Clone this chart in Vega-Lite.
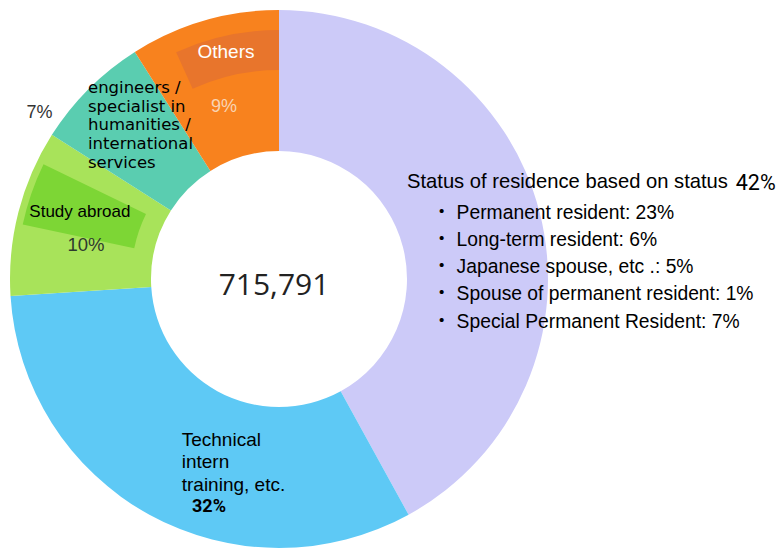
{
  "$schema": "https://vega.github.io/schema/vega-lite/v6.json",
  "width": 558,
  "height": 540,
  "autosize": {"type": "none"},
  "padding": {"left": 0, "top": 9, "right": 218, "bottom": 0},
  "background": "white",
  "config": {"view": {"stroke": null}, "text": {"font": "Liberation Sans"}},
  "datasets": {
    "slices": [
      {"order": 1, "category": "Status of residence based on status", "share": 0.42, "label": "Status of residence based on status", "detail": "・ Permanent resident: 23%\n・ Long-term resident: 6%\n・ Japanese spouse, etc .: 5%\n・ Spouse of permanent resident: 1%\n・ Special Permanent Resident: 7%"},
      {"order": 2, "category": "Technical intern training, etc.", "share": 0.32, "label": "Technical\nintern\ntraining, etc.", "detail": ""},
      {"order": 3, "category": "Study abroad", "share": 0.10, "label": "Study abroad", "detail": ""},
      {"order": 4, "category": "engineers / specialist in humanities / international services", "share": 0.07, "label": "engineers /\nspecialist in\nhumanities /\ninternational\nservices", "detail": ""},
      {"order": 5, "category": "Others", "share": 0.09, "label": "Others", "detail": ""}
    ],
    "summary": [{"total": 715791}]
  },
  "layer": [
    {
      "data": {"name": "slices"},
      "mark": {"type": "arc", "outerRadius": 269, "innerRadius": 128},
      "encoding": {
        "theta": {"field": "share", "type": "quantitative", "stack": true, "scale": {"domain": [0, 1]}},
        "order": {"field": "order", "type": "quantitative"},
        "color": {
          "field": "category", "type": "nominal", "legend": null,
          "scale": {
            "domain": ["Status of residence based on status", "Technical intern training, etc.", "Study abroad", "engineers / specialist in humanities / international services", "Others"],
            "range": ["#CCCAF8", "#5EC9F5", "#A8E35A", "#5ACDB0", "#F8821E"]
          }
        }
      }
    },
    {
      "data": {"name": "slices"},
      "transform": [
        {"stack": "share", "groupby": [], "sort": [{"field": "order", "order": "ascending"}], "as": ["s0", "s1"]},
        {"filter": "datum.order === 5"}
      ],
      "mark": {"type": "arc", "outerRadius": 249, "innerRadius": 209, "thetaOffset": 0.1396, "color": "#E8752C"},
      "encoding": {
        "theta": {"field": "s0", "type": "quantitative", "scale": {"domain": [0, 1]}},
        "theta2": {"field": "s1"}
      }
    },
    {
      "data": {"name": "slices"},
      "transform": [
        {"stack": "share", "groupby": [], "sort": [{"field": "order", "order": "ascending"}], "as": ["s0", "s1"]},
        {"filter": "datum.order === 3"}
      ],
      "mark": {"type": "arc", "outerRadius": 262, "innerRadius": 148, "thetaOffset": 0.2723, "theta2Offset": -0.1117, "color": "#7DD635"},
      "encoding": {
        "theta": {"field": "s0", "type": "quantitative", "scale": {"domain": [0, 1]}},
        "theta2": {"field": "s1"}
      }
    },
    {
      "data": {"name": "slices"},
      "encoding": {
        "theta": {"field": "share", "type": "quantitative", "stack": true, "scale": {"domain": [0, 1]}},
        "order": {"field": "order", "type": "quantitative"},
        "detail": {"field": "category", "type": "nominal"}
      },
      "layer": [
        {
          "mark": {"type": "text", "radius": 198, "align": "left", "baseline": "alphabetic", "dx": -63.8, "dy": -42, "fontSize": 20.2, "color": "#000000"},
          "encoding": {"text": {"condition": {"test": "datum.order === 1", "field": "label", "type": "nominal"}, "value": ""}}
        },
        {
          "mark": {"type": "text", "radius": 198, "align": "left", "baseline": "alphabetic", "dx": 265, "dy": -40, "font": "Roboto", "fontSize": 21.5, "color": "#000000"},
          "encoding": {"text": {"condition": {"test": "datum.order === 1", "field": "share", "type": "quantitative", "format": ".0%"}, "value": ""}}
        },
        {
          "mark": {"type": "text", "radius": 198, "align": "left", "baseline": "alphabetic", "dx": -38.8, "dy": -11.2, "fontSize": 19.3, "lineHeight": 27.3, "lineBreak": "\n", "font": "Liberation Sans, Noto Sans CJK JP", "color": "#000000"},
          "encoding": {"text": {"condition": {"test": "datum.order === 1", "field": "detail", "type": "nominal"}, "value": ""}}
        },
        {
          "mark": {"type": "text", "radius": 198, "align": "left", "baseline": "alphabetic", "dx": -1.9, "dy": -7, "fontSize": 19, "lineHeight": 22.5, "lineBreak": "\n", "color": "#000000"},
          "encoding": {"text": {"condition": {"test": "datum.order === 2", "field": "label", "type": "nominal"}, "value": ""}}
        },
        {
          "mark": {"type": "text", "radius": 198, "align": "left", "baseline": "alphabetic", "dx": 8.4, "dy": 59.5, "font": "Roboto", "fontSize": 18, "fontWeight": "bold", "color": "#000000"},
          "encoding": {"text": {"condition": {"test": "datum.order === 2", "field": "share", "type": "quantitative", "format": ".0%"}, "value": ""}}
        },
        {
          "mark": {"type": "text", "radius": 198, "align": "left", "baseline": "alphabetic", "dx": -57.9, "dy": -13.1, "fontSize": 17, "color": "#000000"},
          "encoding": {"text": {"condition": {"test": "datum.order === 3", "field": "label", "type": "nominal"}, "value": ""}}
        },
        {
          "mark": {"type": "text", "radius": 198, "align": "center", "baseline": "alphabetic", "dx": -1.2, "dy": 21.7, "fontSize": 18.5, "color": "#2E3A2E"},
          "encoding": {"text": {"condition": {"test": "datum.order === 3", "field": "share", "type": "quantitative", "format": ".0%"}, "value": ""}}
        },
        {
          "mark": {"type": "text", "radius": 198, "align": "center", "baseline": "alphabetic", "dx": -99.5, "dy": -21, "fontSize": 18, "color": "#333333"},
          "encoding": {"text": {"condition": {"test": "datum.order === 4", "field": "share", "type": "quantitative", "format": ".0%"}, "value": ""}}
        },
        {
          "mark": {"type": "text", "radius": 198, "align": "left", "baseline": "alphabetic", "dx": -51, "dy": -45.7, "font": "DejaVu Sans", "fontSize": 16.5, "lineHeight": 18.6, "lineBreak": "\n", "color": "#000000"},
          "encoding": {"text": {"condition": {"test": "datum.order === 4", "field": "label", "type": "nominal"}, "value": ""}}
        },
        {
          "mark": {"type": "text", "radius": 198, "align": "center", "baseline": "alphabetic", "dx": 2.2, "dy": -30.9, "fontSize": 19, "color": "#FFFFFF"},
          "encoding": {"text": {"condition": {"test": "datum.order === 5", "field": "label", "type": "nominal"}, "value": ""}}
        },
        {
          "mark": {"type": "text", "radius": 198, "align": "center", "baseline": "alphabetic", "dx": 0.2, "dy": 23.1, "fontSize": 18, "color": "#F9D4B4"},
          "encoding": {"text": {"condition": {"test": "datum.order === 5", "field": "share", "type": "quantitative", "format": ".0%"}, "value": ""}}
        }
      ]
    },
    {
      "data": {"name": "summary"},
      "mark": {"type": "text", "font": "Open Sans", "fontSize": 30, "align": "center", "baseline": "alphabetic", "dx": -5, "dy": 16, "color": "#222222"},
      "encoding": {"text": {"field": "total", "type": "quantitative", "format": ","}}
    }
  ]
}
